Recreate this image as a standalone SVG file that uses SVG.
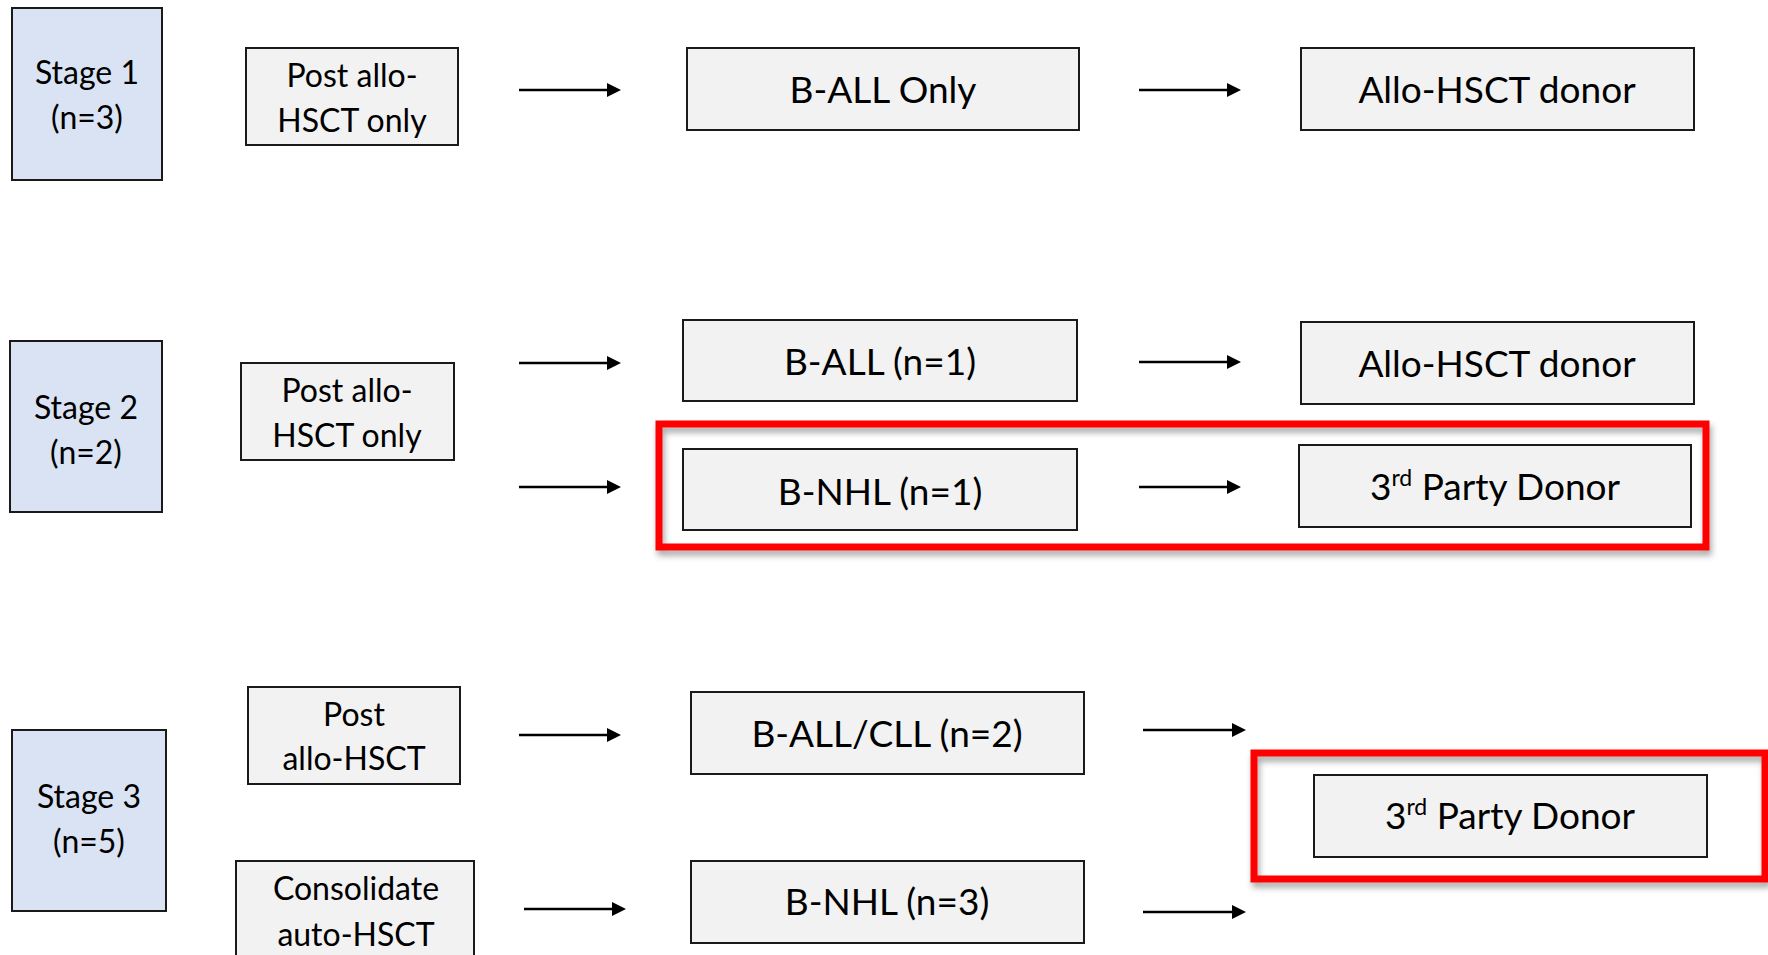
<svg xmlns="http://www.w3.org/2000/svg" width="1768" height="955" viewBox="0 0 1768 955">
<defs>
<style>
.stage{fill:#DAE3F3;stroke:#1a1a1a;stroke-width:2}
.box{fill:#F2F2F2;stroke:#1a1a1a;stroke-width:2}
.hl{fill:none;stroke:#FF0000;stroke-width:7}
.t{font-family:Lato,"Open Sans",sans-serif;fill:#000;text-anchor:middle}
.ts{font-size:32px}
.tm{font-size:37px}
.conn line{stroke:#000;stroke-width:2.5}
</style>
<marker id="ah" markerWidth="14" markerHeight="14" refX="10" refY="7" orient="auto" markerUnits="userSpaceOnUse" viewBox="0 0 14 14">
<path d="M0,0 L14,7 L0,14 Z" fill="#000"/>
</marker>
<filter id="sh" x="-5%" y="-20%" width="110%" height="150%">
<feDropShadow dx="2" dy="5" stdDeviation="3" flood-color="#000" flood-opacity="0.35"/>
</filter>
</defs>
<rect width="1768" height="955" fill="#fff"/>

<g id="highlights">
<rect class="hl" x="659" y="424" width="1047" height="123" filter="url(#sh)"/>
<rect class="hl" x="1254" y="753" width="511" height="126" filter="url(#sh)"/>
</g>

<g id="stage1"><rect class="stage" x="12" y="8" width="150" height="172"/>
<text class="t ts" x="87" y="84">Stage 1</text><text class="t ts" x="87" y="129">(n=3)</text></g>
<g id="stage2"><rect class="stage" x="10" y="341" width="152" height="171"/>
<text class="t ts" x="86" y="419">Stage 2</text><text class="t ts" x="86" y="464">(n=2)</text></g>
<g id="stage3"><rect class="stage" x="12" y="730" width="154" height="181"/>
<text class="t ts" x="89" y="808">Stage 3</text><text class="t ts" x="89" y="853">(n=5)</text></g>

<g id="r1-post"><rect class="box" x="246" y="48" width="212" height="97"/>
<text class="t ts" x="352" y="87">Post allo-</text><text class="t ts" x="352" y="132">HSCT only</text></g>
<g id="r1-ball"><rect class="box" x="687" y="48" width="392" height="82"/>
<text class="t tm" x="883" y="103">B-ALL Only</text></g>
<g id="r1-donor"><rect class="box" x="1301" y="48" width="393" height="82"/>
<text class="t tm" x="1497" y="103">Allo-HSCT donor</text></g>

<g id="r2-post"><rect class="box" x="241" y="363" width="213" height="97"/>
<text class="t ts" x="347" y="402">Post allo-</text><text class="t ts" x="347" y="447">HSCT only</text></g>
<g id="r2-ball"><rect class="box" x="683" y="320" width="394" height="81"/>
<text class="t tm" x="880" y="375">B-ALL (n=1)</text></g>
<g id="r2-donor"><rect class="box" x="1301" y="322" width="393" height="82"/>
<text class="t tm" x="1497" y="377">Allo-HSCT donor</text></g>
<g id="r2-bnhl"><rect class="box" x="683" y="449" width="394" height="81"/>
<text class="t tm" x="880" y="505">B-NHL (n=1)</text></g>
<g id="r2-third"><rect class="box" x="1299" y="445" width="392" height="82"/>
<text class="t tm" x="1495" y="500">3<tspan font-size="23" dy="-14">rd</tspan><tspan dy="14"> Party Donor</tspan></text></g>

<g id="r3-post"><rect class="box" x="248" y="687" width="212" height="97"/>
<text class="t ts" x="354" y="726">Post</text><text class="t ts" x="354" y="770">allo-HSCT</text></g>
<g id="r3-cons"><rect class="box" x="236" y="861" width="238" height="110"/>
<text class="t ts" x="356" y="900">Consolidate</text><text class="t ts" x="356" y="946">auto-HSCT</text></g>
<g id="r3-ballcll"><rect class="box" x="691" y="692" width="393" height="82"/>
<text class="t tm" x="887" y="747">B-ALL/CLL (n=2)</text></g>
<g id="r3-bnhl"><rect class="box" x="691" y="861" width="393" height="82"/>
<text class="t tm" x="887" y="915">B-NHL (n=3)</text></g>
<g id="r3-third"><rect class="box" x="1314" y="775" width="393" height="82"/>
<text class="t tm" x="1510" y="829">3<tspan font-size="23" dy="-14">rd</tspan><tspan dy="14"> Party Donor</tspan></text></g>

<g id="connectors" class="conn">
<line x1="519" y1="90" x2="617" y2="90" marker-end="url(#ah)"/>
<line x1="1139" y1="90" x2="1237" y2="90" marker-end="url(#ah)"/>
<line x1="519" y1="363" x2="617" y2="363" marker-end="url(#ah)"/>
<line x1="1139" y1="362" x2="1237" y2="362" marker-end="url(#ah)"/>
<line x1="519" y1="487" x2="617" y2="487" marker-end="url(#ah)"/>
<line x1="1139" y1="487" x2="1237" y2="487" marker-end="url(#ah)"/>
<line x1="519" y1="735" x2="617" y2="735" marker-end="url(#ah)"/>
<line x1="524" y1="909" x2="622" y2="909" marker-end="url(#ah)"/>
<line x1="1143" y1="730" x2="1242" y2="730" marker-end="url(#ah)"/>
<line x1="1143" y1="912" x2="1242" y2="912" marker-end="url(#ah)"/>
</g>
</svg>
